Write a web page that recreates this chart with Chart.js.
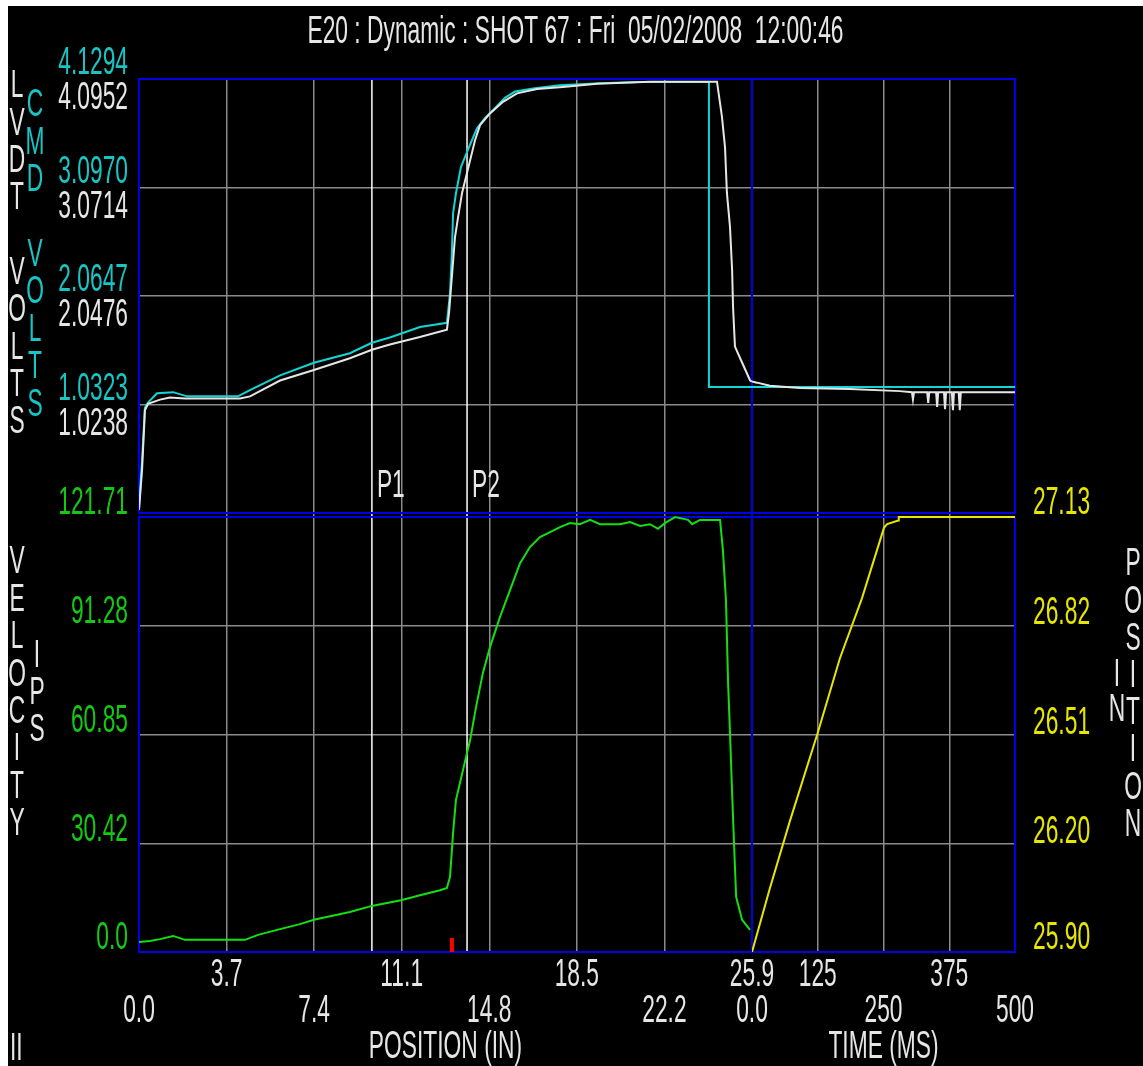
<!DOCTYPE html>
<html>
<head>
<meta charset="utf-8">
<title>E20 : Dynamic : SHOT 67</title>
<script src="https://cdn.jsdelivr.net/npm/chart.js@4.4.1/dist/chart.umd.min.js"></script>
<style>
  html, body { margin: 0; padding: 0; background: #fff; }
  #wrap { position: absolute; left: 8px; top: 6px; width: 1135px; height: 1060px; background: #000; }
</style>
</head>
<body>
<div id="wrap"><canvas id="shotChart"></canvas></div>
<script>
const FONT = "'Liberation Sans', Arial, sans-serif";
const FSIZE = 38;
const SQUEEZE = 0.6;   // the monitor prints tall, narrow glyphs

// tick labels as printed on the monitor
const posTicks  = ['0.0', '3.7', '7.4', '11.1', '14.8', '18.5', '22.2', '25.9'];
const timeTicks = ['0.0', '125', '250', '375', '500'];
const cmdTicks  = ['1.0323', '2.0647', '3.0970', '4.1294'];
const lvdtTicks = ['1.0238', '2.0476', '3.0714', '4.0952'];
const velTicks  = ['0.0', '30.42', '60.85', '91.28', '121.71'];
const shotTicks = ['25.90', '26.20', '26.51', '26.82', '27.13'];

// P1 / P2 markers and the red mark on the position axis (inches)
const markerNames = ['P1', 'P2'];
const markerPos = [9.84, 13.86];
const redMarkPos = 13.22;

// LVDT volts (white) against position
const lvdtPos = [0, 0.13, 0.25, 0.38, 0.89, 1.31, 1.94, 4.27, 4.69, 5.96, 7.39, 8.91, 9.84, 10.60, 11.87, 13.01, 13.10, 13.22, 13.35, 13.48,
  13.65, 13.86, 14.20, 14.41, 14.83, 15.38, 15.97, 16.82, 17.91, 19.35, 21.59, 24.42, 24.63, 24.76, 24.84, 24.97, 25.06, 25.10, 25.18, 25.48, 25.82, 25.90];
const lvdtVolts = [0.03, 0.41, 0.97, 1.03, 1.07, 1.09, 1.08, 1.08, 1.10, 1.25, 1.35, 1.46, 1.54, 1.59, 1.66, 1.73, 1.89, 2.23, 2.60, 2.79,
  3.02, 3.21, 3.52, 3.66, 3.77, 3.88, 3.96, 4.00, 4.02, 4.05, 4.07, 4.07, 3.74, 3.45, 3.02, 2.70, 2.29, 1.94, 1.57, 1.42, 1.25, 1.24];
// LVDT after the stroke, against time
const lvdtTime = [0, 9.5, 34, 91, 186, 281, 304, 306, 308, 333, 335, 337, 350, 352, 354, 365, 367, 369, 380, 382, 384, 393, 395, 397, 500];
const lvdtTailVolts = [1.24, 1.23, 1.20, 1.18, 1.17, 1.15, 1.14, 1.07, 1.14, 1.14, 1.04, 1.14, 1.14, 1.00, 1.14, 1.14, 0.98, 1.14, 1.14, 0.97, 1.14, 1.14, 0.97, 1.14, 1.14];

// command volts (cyan)
const cmdPos = [0, 0.13, 0.25, 0.38, 0.76, 1.44, 2.03, 4.18, 4.69, 5.96, 7.39, 8.91, 9.84, 10.60, 11.87, 13.01, 13.14, 13.22, 13.27, 13.39,
  13.60, 13.94, 14.28, 14.62, 15.08, 15.46, 15.89, 16.65, 17.79, 19.48, 21.17, 23.70, 24.08, 24.08, 25.90];
const cmdVolts = [0.05, 0.50, 1.00, 1.05, 1.14, 1.15, 1.11, 1.11, 1.17, 1.31, 1.43, 1.52, 1.62, 1.67, 1.77, 1.81, 2.09, 2.47, 2.85, 3.04,
  3.29, 3.48, 3.66, 3.76, 3.86, 3.95, 4.01, 4.04, 4.07, 4.09, 4.10, 4.10, 4.10, 1.20, 1.20];
const cmdTime = [0, 500];
const cmdTailVolts = [1.20, 1.20];

// velocity IPS (green) against position
const velPos = [0, 0.46, 0.89, 1.44, 1.94, 4.48, 5.03, 5.96, 6.80, 7.39, 8.91, 9.84, 11.07, 11.87, 12.72, 13.01, 13.14, 13.22, 13.27, 13.39,
  13.56, 13.82, 13.99, 14.24, 14.53, 14.83, 15.25, 15.68, 16.10, 16.52, 16.94, 17.37, 17.79, 18.21, 18.63, 19.06, 19.48, 20.32, 20.75, 21.17,
  21.59, 21.93, 22.22, 22.65, 23.20, 23.37, 23.70, 24.55, 24.67, 24.80, 24.89, 24.97, 25.06, 25.14, 25.23, 25.48, 25.82];
const velIps = [2.8, 3.1, 3.6, 4.5, 3.4, 3.4, 4.8, 6.4, 7.8, 9.0, 11.2, 12.9, 14.5, 15.9, 17.3, 17.9, 21.0, 28.5, 33.3, 42.5,
  47.3, 54.6, 59.3, 68.5, 78.1, 85.3, 93.7, 101.3, 108.8, 113.3, 116.1, 117.5, 118.9, 120.0, 119.7, 120.9, 119.7, 119.7, 120.3, 119.2,
  119.7, 118.4, 120.0, 121.7, 120.9, 119.7, 120.9, 120.9, 112.5, 98.5, 75.3, 61.3, 44.5, 30.5, 15.4, 9.0, 6.2];

// plunger position (yellow) against time
const shotTime = [0, 34, 72, 125, 167, 209, 251, 257, 278, 279, 500];
const shotPosIn = [25.90, 26.08, 26.27, 26.52, 26.73, 26.90, 27.10, 27.11, 27.12, 27.13, 27.13];

const WHITE = '#e6e6e6', CYAN = '#12d6d6', CYAN_TXT = '#18c4c4', GREEN = '#12e012', GREEN_TXT = '#14c814',
      YELLOW = '#e6e600', BLUE = '#0000e8', GRID = '#8a8a8a', NONE = 'rgba(0,0,0,0)';

// panel heights in px: top panel, gap, bottom panel
const TOP_PX = 434, GAP_PX = 4, BOT_PX = 435;
const ALL_PX = TOP_PX + GAP_PX + BOT_PX;
const LEFT_W = 131, LABEL_GAP = 11;

const lvdtMax = parseFloat(lvdtTicks[lvdtTicks.length - 1]);
const cmdMax = parseFloat(cmdTicks[cmdTicks.length - 1]);
const velMax = parseFloat(velTicks[velTicks.length - 1]);
const shotMin = parseFloat(shotTicks[0]);
const shotMax = parseFloat(shotTicks[shotTicks.length - 1]);
const posMax = parseFloat(posTicks[posTicks.length - 1]);
const timeMax = parseFloat(timeTicks[timeTicks.length - 1]);

// narrow every piece of text drawn on the chart canvas
function squeezeText(c2d) {
  const fill = c2d.fillText.bind(c2d);
  const measure = c2d.measureText.bind(c2d);
  c2d.fillText = function (text, x, y, maxWidth) {
    this.save();
    this.translate(x, y);
    this.scale(SQUEEZE, 1);
    if (maxWidth === undefined) fill(text, 0, 0);
    else fill(text, 0, 0, maxWidth / SQUEEZE);
    this.restore();
  };
  c2d.measureText = function (text) {
    const m = measure(text);
    return { width: m.width * SQUEEZE, actualBoundingBoxAscent: m.actualBoundingBoxAscent,
             actualBoundingBoxDescent: m.actualBoundingBoxDescent };
  };
}

// width of a 6-character volts label, for the mirrored top-panel axes
const scratch = document.createElement('canvas').getContext('2d');
scratch.font = FSIZE + 'px ' + FONT;
const voltsLabelW = scratch.measureText(cmdTicks[0]).width * SQUEEZE;

const xy = (xs, ys) => xs.map((x, i) => ({ x: x, y: ys[i] }));
const fixedTicks = labels => scale => { scale.ticks = labels.map(l => ({ value: parseFloat(l) })); };
const innerGrid = (ctx) => (ctx.index > 0 && ctx.index < ctx.scale.ticks.length - 1) ? GRID : NONE;

function lineSet(label, data, xId, yId, color) {
  return { label, data, xAxisID: xId, yAxisID: yId, borderColor: color, backgroundColor: color,
           borderWidth: 2, pointRadius: 0, tension: 0, fill: false };
}

function drawColumn(ctx, text, x, y0, step, color) {
  ctx.fillStyle = color;
  [...text].forEach((ch, i) => { if (ch !== ' ') ctx.fillText(ch, x, y0 + i * step); });
}

const scopePlugin = {
  id: 'scope',
  beforeDatasetsDraw(chart) {
    const { ctx } = chart;
    const { xPos, xTime, yLvdt, yVel } = chart.scales;
    const left = xPos.getPixelForValue(0), split = xTime.getPixelForValue(0), right = xTime.getPixelForValue(timeMax);
    const t1 = yLvdt.getPixelForValue(lvdtMax), b1 = yLvdt.getPixelForValue(0);
    const t2 = yVel.getPixelForValue(velMax), b2 = yVel.getPixelForValue(0);
    ctx.save();
    ctx.strokeStyle = '#ffffff';
    ctx.lineWidth = 1.5;
    markerPos.forEach(p => {
      const x = xPos.getPixelForValue(p);
      ctx.beginPath(); ctx.moveTo(x, t1); ctx.lineTo(x, b2); ctx.stroke();
    });
    ctx.strokeStyle = BLUE;
    ctx.lineWidth = 2;
    ctx.strokeRect(left, t1, right - left, b1 - t1);
    ctx.strokeRect(left, t2, right - left, b2 - t2);
    ctx.beginPath(); ctx.moveTo(split, t1); ctx.lineTo(split, b2); ctx.stroke();
    ctx.restore();
  },
  afterDraw(chart) {
    const { ctx } = chart;
    const { xPos, yLvdt, yVel } = chart.scales;
    ctx.save();
    ctx.font = FSIZE + 'px ' + FONT;
    ctx.textBaseline = 'middle';
    ctx.textAlign = 'left';
    ctx.fillStyle = WHITE;
    const pY = yLvdt.getPixelForValue(0) - 26;
    markerNames.forEach((n, i) => ctx.fillText(n, xPos.getPixelForValue(markerPos[i]) + 5, pY));
    ctx.fillText('II', 2, 1044);

    ctx.fillStyle = '#ff0000';
    const rx = xPos.getPixelForValue(redMarkPos), ry = yVel.getPixelForValue(0);
    ctx.fillRect(rx - 2, ry - 14, 4, 14);

    ctx.textAlign = 'center';
    drawColumn(ctx, 'LVDT VOLTS', 9, 81, 37.3, WHITE);
    drawColumn(ctx, 'CMD VOLTS', 27, 100, 37.4, CYAN_TXT);
    drawColumn(ctx, 'VELOCITY', 9, 557, 37.4, WHITE);
    drawColumn(ctx, 'IPS', 29, 651, 37, WHITE);
    drawColumn(ctx, 'POSITION', 1125, 559, 37.2, WHITE);
    drawColumn(ctx, 'IN', 1109, 670, 35, WHITE);
    ctx.restore();
  }
};

const tickFont = { family: FONT, size: FSIZE, lineHeight: '35.5px' };
const yFont = { family: FONT, size: FSIZE };
const titleFont = { family: FONT, size: FSIZE, weight: 'normal', lineHeight: '30px' };

const canvas = document.getElementById('shotChart');
squeezeText(canvas.getContext('2d'));

new Chart(canvas, {
  type: 'line',
  data: {
    datasets: [
      lineSet('LVDT VOLTS', xy(lvdtPos, lvdtVolts), 'xPos', 'yLvdt', WHITE),
      lineSet('LVDT VOLTS (time)', xy(lvdtTime, lvdtTailVolts), 'xTime', 'yLvdt', WHITE),
      lineSet('CMD VOLTS', xy(cmdPos, cmdVolts), 'xPos', 'yCmd', CYAN),
      lineSet('CMD VOLTS (time)', xy(cmdTime, cmdTailVolts), 'xTime', 'yCmd', CYAN),
      lineSet('VELOCITY IPS', xy(velPos, velIps), 'xPos', 'yVel', GREEN),
      lineSet('POSITION IN', xy(shotTime, shotPosIn), 'xTime', 'yPosn', YELLOW)
    ]
  },
  options: {
    responsive: true,
    maintainAspectRatio: false,
    animation: false,
    events: [],
    layout: { padding: 0 },
    plugins: {
      legend: { display: false },
      tooltip: { enabled: false },
      title: {
        display: true,
        text: 'E20 : Dynamic : SHOT 67 : Fri  05/02/2008  12:00:46',
        color: WHITE,
        font: titleFont,
        padding: { top: 12, bottom: 31 }
      }
    },
    scales: {
      xPos: {
        type: 'linear', position: 'bottom', stack: 'bottom', stackWeight: 613, weight: 0,
        min: 0, max: posMax,
        afterBuildTicks: fixedTicks(posTicks),
        afterFit: s => { s.height = 114; },
        border: { display: false },
        grid: { color: innerGrid, lineWidth: 1.5, drawTicks: false },
        ticks: { color: WHITE, font: tickFont, padding: 6, maxRotation: 0, autoSkip: false,
                 callback: (v, i) => i % 2 ? [posTicks[i]] : ['', posTicks[i]] },
        title: { display: true, text: 'POSITION (IN)', color: WHITE, font: titleFont, padding: { top: 0, bottom: 3 } }
      },
      xTime: {
        type: 'linear', position: 'bottom', stack: 'bottom', stackWeight: 263, weight: 1,
        min: 0, max: timeMax,
        afterBuildTicks: fixedTicks(timeTicks),
        afterFit: s => { s.height = 114; },
        border: { display: false },
        grid: { color: innerGrid, lineWidth: 1.5, drawTicks: false },
        ticks: { color: WHITE, font: tickFont, padding: 6, maxRotation: 0, autoSkip: false,
                 callback: (v, i) => i % 2 ? [timeTicks[i]] : ['', timeTicks[i]] },
        title: { display: true, text: 'TIME (MS)', color: WHITE, font: titleFont, padding: { top: 0, bottom: 3 } }
      },
      yCmd: {
        type: 'linear', position: 'left', weight: 0,
        min: -cmdMax * (GAP_PX + BOT_PX) / TOP_PX, max: cmdMax,
        afterBuildTicks: fixedTicks(cmdTicks),
        afterFit: s => { s.width = 0; },
        border: { display: false },
        grid: { display: false },
        ticks: { color: CYAN_TXT, font: yFont, mirror: true, padding: -LABEL_GAP - voltsLabelW, labelOffset: -15,
                 callback: (v, i) => cmdTicks[i] }
      },
      yLvdt: {
        type: 'linear', position: 'left', weight: 1,
        min: -lvdtMax * (GAP_PX + BOT_PX) / TOP_PX, max: lvdtMax,
        afterBuildTicks: fixedTicks(lvdtTicks),
        afterFit: s => { s.width = 0; },
        border: { display: false },
        grid: { color: ctx => ctx.index < lvdtTicks.length - 1 ? GRID : NONE, lineWidth: 1.5, drawTicks: false },
        ticks: { color: WHITE, font: yFont, mirror: true, padding: -LABEL_GAP - voltsLabelW, labelOffset: 20,
                 callback: (v, i) => lvdtTicks[i] }
      },
      yVel: {
        type: 'linear', position: 'left', weight: 2,
        min: 0, max: velMax * ALL_PX / BOT_PX,
        afterBuildTicks: fixedTicks(velTicks),
        afterFit: s => { s.width = LEFT_W; },
        border: { display: false },
        grid: { color: innerGrid, lineWidth: 1.5, drawTicks: false },
        ticks: { color: GREEN_TXT, font: yFont, padding: LABEL_GAP, labelOffset: -13,
                 callback: (v, i) => velTicks[i] }
      },
      yPosn: {
        type: 'linear', position: 'right',
        min: shotMin, max: shotMin + (shotMax - shotMin) * ALL_PX / BOT_PX,
        afterBuildTicks: fixedTicks(shotTicks),
        afterFit: s => { s.width = 128; },
        border: { display: false },
        grid: { display: false },
        ticks: { color: YELLOW, font: yFont, padding: 10, labelOffset: -13,
                 callback: (v, i) => shotTicks[i] }
      }
    }
  },
  plugins: [scopePlugin]
});
</script>
</body>
</html>
